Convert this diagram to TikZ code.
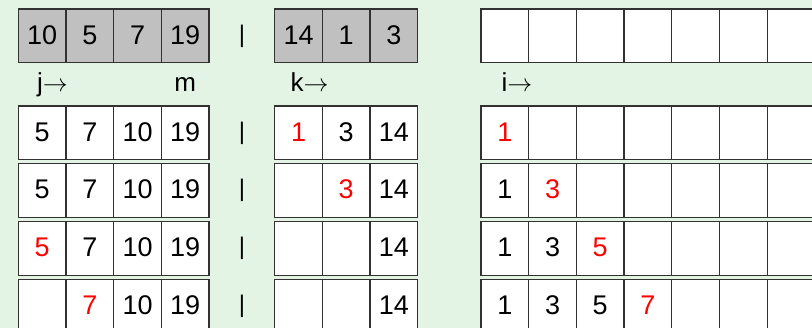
\documentclass[tikz,border=0pt]{standalone}
\usepackage{fontspec}
\setmainfont{Liberation Sans}
\usetikzlibrary{positioning,calc}
\definecolor{pagebg}{RGB}{227,244,228}
\definecolor{runfill}{RGB}{192,192,192}
\definecolor{cellline}{RGB}{50,50,50}
\newcommand{\picked}[1]{\textcolor{red}{#1}}
\newcommand{\rt}{$\rightarrow$}
\tikzset{
  cell/.style={
    draw=cellline,
    line width=1.3pt,
    fill=white,
    minimum width=47.7pt,
    minimum height=53.7pt,
    inner sep=0pt,
    outer sep=0pt,
    text depth=0.25em,
    font=\fontsize{27}{32}\selectfont
  },
  runcell/.style={
    cell,
    fill=runfill
  },
  bar/.style={
    inner sep=0pt,
    font=\fontsize{24}{28}\selectfont
  },
  tag/.style={
    anchor=base west,
    inner sep=0pt,
    font=\fontsize{26}{30}\selectfont
  }
}

\begin{document}
\begin{tikzpicture}[x=1pt,y=-1pt]
    \fill[pagebg] (0,0) rectangle (812,328);
    \useasboundingbox (0,0) rectangle (812,328);
    \begin{scope}
        \clip (0,0) rectangle (812,328);
        % the two runs before merging
        \foreach \v [count=\n] in {10,5,7,19}
            \node[runcell] (a0\n) at ({18.3+47.7*(\n-0.5)},36) {\v};
        \foreach \v [count=\n] in {14,1,3}
            \node[runcell] (b0\n) at ({274.7+47.7*(\n-0.5)},36) {\v};
        \foreach \n in {1,...,7}
            \node[cell] (c0\n) at ({481+47.7*(\n-0.5)},36) {};
        \node[tag] (j) at (37,91.5) {j\rt};
        \node[tag, anchor=base] (m) at (a04 |- j.base) {m};
        \node[tag] (k) at (290.5,91.5) {k\rt};
        \node[tag] (i) at (501.5,91.5) {i\rt};
        % merge steps
        \foreach \v [count=\n] in {5,7,10,19}
            \node[cell] (a1\n) at ({18.3+47.7*(\n-0.5)},133) {\v};
        \foreach \v [count=\n] in {\picked{1},3,14}
            \node[cell] (b1\n) at ({274.7+47.7*(\n-0.5)},133) {\v};
        \foreach \v [count=\n] in {\picked{1},,,,,,}
            \node[cell] (c1\n) at ({481+47.7*(\n-0.5)},133) {\v};
        \foreach \v [count=\n] in {5,7,10,19}
            \node[cell] (a2\n) at ({18.3+47.7*(\n-0.5)},190.7) {\v};
        \foreach \v [count=\n] in {,\picked{3},14}
            \node[cell] (b2\n) at ({274.7+47.7*(\n-0.5)},190.7) {\v};
        \foreach \v [count=\n] in {1,\picked{3},,,,,}
            \node[cell] (c2\n) at ({481+47.7*(\n-0.5)},190.7) {\v};
        \foreach \v [count=\n] in {\picked{5},7,10,19}
            \node[cell] (a3\n) at ({18.3+47.7*(\n-0.5)},248.4) {\v};
        \foreach \v [count=\n] in {,,14}
            \node[cell] (b3\n) at ({274.7+47.7*(\n-0.5)},248.4) {\v};
        \foreach \v [count=\n] in {1,3,\picked{5},,,,}
            \node[cell] (c3\n) at ({481+47.7*(\n-0.5)},248.4) {\v};
        \foreach \v [count=\n] in {,\picked{7},10,19}
            \node[cell] (a4\n) at ({18.3+47.7*(\n-0.5)},306.1) {\v};
        \foreach \v [count=\n] in {,,14}
            \node[cell] (b4\n) at ({274.7+47.7*(\n-0.5)},306.1) {\v};
        \foreach \v [count=\n] in {1,3,5,\picked{7},,,}
            \node[cell] (c4\n) at ({481+47.7*(\n-0.5)},306.1) {\v};
        % separators
        \foreach \r in {0,...,4}
            \node[bar] (bar\r) at ($(a\r4.east)!0.5!(b\r1.west)$) {|};
    \end{scope}
\end{tikzpicture}
\end{document}
